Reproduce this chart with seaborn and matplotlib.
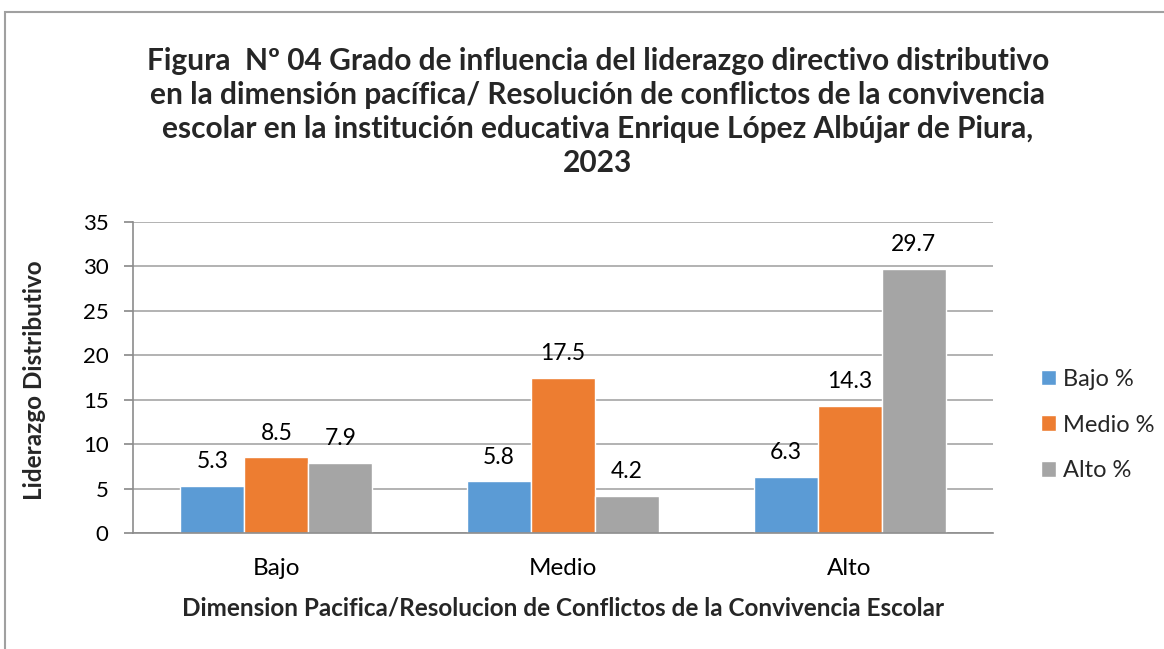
import numpy as np
import pandas as pd
import matplotlib
matplotlib.use('Agg')
import matplotlib.pyplot as plt
import seaborn as sns
from matplotlib.patches import Rectangle

# ====================== DATA ======================
categories = ['Bajo', 'Medio', 'Alto']
series = ['Bajo %', 'Medio %', 'Alto %']
bajo_vals = [5.3, 5.8, 6.3]
medio_vals = [8.5, 17.5, 14.3]
alto_vals = [7.9, 4.2, 29.7]
y_ticks = [0, 5, 10, 15, 20, 25, 30, 35]

title = ("Figura  Nº 04 Grado de influencia del liderazgo directivo distributivo\n"
         "en la dimensión pacífica/ Resolución de conflictos de la convivencia\n"
         "escolar en la institución educativa Enrique López Albújar de Piura,\n"
         "2023")
x_label = "Dimension Pacifica/Resolucion de Conflictos de la Convivencia Escolar"
y_label = "Liderazgo Distributivo"

colors = ['#5B9BD5', '#ED7D31', '#A5A5A5']

df = pd.DataFrame({
    'cat': categories * 3,
    'serie': [s for s in series for _ in categories],
    'valor': bajo_vals + medio_vals + alto_vals,
})

# ====================== STYLE ======================
sns.set_theme(style='white')
plt.rcParams['font.family'] = ['Lato', 'DejaVu Sans']

W, H = 1164, 649
fig = plt.figure(figsize=(W / 100, H / 100), dpi=100)
ax = fig.add_axes([133 / W, 1 - 533 / H, (993 - 133) / W, (533 - 222) / H])

sns.barplot(data=df, x='cat', y='valor', hue='serie', palette=colors,
            width=0.67, saturation=1, ax=ax, legend=True)

# data labels above each bar
for cont in ax.containers:
    ax.bar_label(cont, fmt='%.1f', padding=10, fontsize=16.5, color='#000000')

ax.set_ylim(0, 35)
ax.set_yticks(y_ticks)
ax.set_yticklabels([str(t) for t in y_ticks], fontsize=16)
ax.tick_params(axis='y', which='both', left=True, length=6.5, color='#8c8c8c',
               direction='out', pad=11, labelcolor='black')
ax.tick_params(axis='x', bottom=False, labelsize=17.5, pad=12, labelcolor='black')
ax.yaxis.grid(True, color='#a6a6a6', linewidth=1.2)
ax.set_axisbelow(True)

for s in ['top', 'right']:
    ax.spines[s].set_visible(False)
for s in ['left', 'bottom']:
    ax.spines[s].set_color('#8c8c8c')
    ax.spines[s].set_linewidth(1.2)

ax.set_xlabel(x_label, fontsize=17.5, fontweight='bold')
ax.set_ylabel(y_label, fontsize=17.5, fontweight='bold')
ax.xaxis.set_label_coords(0.5, -(608 - 533) / 311)
ax.xaxis.label.set_va('center')
ax.yaxis.set_label_coords((35 - 133) / 860, 0.49)
ax.yaxis.label.set_va('center')

# legend on the right
handles, labels = ax.get_legend_handles_labels()
ax.get_legend().remove()
fig.legend(handles, labels, loc='center left', bbox_to_anchor=(1020 / W, 1 - 425 / H),
           frameon=False, fontsize=17, handlelength=0.64, handleheight=0.64,
           handletextpad=0.3, labelspacing=1.05)

# title
fig.text(598 / W, 1 - 112 / H, title, ha='center', va='center', fontsize=21.5,
         fontweight='bold', linespacing=1.27)

# outer chart border
fig.patches.append(Rectangle((5 / W, -0.1), 1.2, 1.1 - 12 / H, transform=fig.transFigure,
                             fill=False, edgecolor='#a0a0a0', linewidth=1.5))

fig.savefig('out.png', dpi=100, facecolor='white')
